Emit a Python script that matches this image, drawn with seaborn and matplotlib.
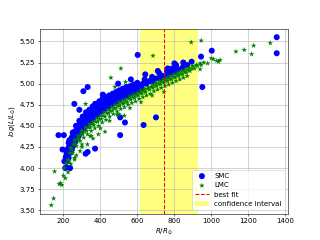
import matplotlib
matplotlib.use("Agg")
import matplotlib.pyplot as plt
import numpy as np
import pandas as pd
import seaborn as sns

# SMC stars: radius (R/Rsun) and log luminosity
smc_r = [205, 212, 218, 224, 230, 236, 242, 248, 254, 260, 266, 272, 278, 284, 290, 296,
         302, 308, 314, 320, 326, 332, 338, 344, 350, 356, 362, 368, 374, 380, 388, 396,
         404, 412, 420, 428, 436, 444, 452, 460, 468, 476, 484, 492, 500, 510, 520, 530,
         540, 552, 564, 576, 588, 600, 615, 630, 648, 666, 684, 702, 720, 740, 760, 780,
         800, 820, 845, 870,
         210, 220, 228, 238, 246, 256, 264, 274, 282, 292, 300, 310, 318, 328, 336, 346,
         354, 364, 372, 382, 392, 402, 414, 426, 438, 450, 462, 474, 488, 502, 516, 532,
         548, 566, 584, 604, 624,
         232, 250, 268, 286, 304, 322, 340, 358, 376, 394, 412, 430, 448, 466, 484, 502,
         520, 540, 560, 580, 600, 640, 680, 720, 760, 790,
         602, 331, 308, 259, 286, 173, 202, 195, 218, 320, 331, 371, 417, 413, 371, 496,
         565, 507, 507, 533, 634, 701, 643, 711, 765, 801, 810, 849, 894, 945, 1003, 952,
         1355, 1355, 216, 236, 228, 245, 262, 240]
smc_logl = [4.08, 4.13, 4.17, 4.23, 4.25, 4.31, 4.32, 4.37, 4.37, 4.43, 4.43, 4.47, 4.47, 4.51, 4.51, 4.55,
            4.54, 4.58, 4.57, 4.61, 4.60, 4.63, 4.62, 4.66, 4.65, 4.68, 4.67, 4.70, 4.69, 4.72, 4.71, 4.75,
            4.74, 4.77, 4.76, 4.79, 4.78, 4.81, 4.80, 4.83, 4.82, 4.85, 4.84, 4.87, 4.86, 4.89, 4.88, 4.91,
            4.90, 4.93, 4.92, 4.95, 4.94, 4.97, 4.97, 5.00, 5.00, 5.03, 5.03, 5.06, 5.06, 5.09, 5.09, 5.13,
            5.14, 5.17, 5.19, 5.22,
            4.00, 4.08, 4.12, 4.18, 4.22, 4.27, 4.32, 4.35, 4.38, 4.42, 4.44, 4.47, 4.50, 4.52, 4.54, 4.57,
            4.58, 4.60, 4.62, 4.63, 4.65, 4.67, 4.69, 4.70, 4.72, 4.74, 4.76, 4.77, 4.79, 4.81, 4.83, 4.85,
            4.86, 4.88, 4.90, 4.92, 4.94,
            4.33, 4.42, 4.50, 4.56, 4.61, 4.66, 4.69, 4.73, 4.76, 4.79, 4.82, 4.84, 4.86, 4.88, 4.90, 4.92,
            4.94, 4.96, 4.97, 4.99, 5.01, 5.05, 5.08, 5.12, 5.15, 5.18,
            5.34, 4.96, 4.91, 4.76, 4.69, 4.39, 4.39, 4.22, 4.18, 4.17, 4.19, 4.23, 4.86, 4.87, 4.76, 5.00,
            5.05, 4.39, 4.60, 4.54, 4.51, 4.60, 5.11, 5.15, 5.18, 5.24, 5.22, 5.25, 5.26, 5.32, 5.39, 4.96,
            5.55, 5.36, 4.01, 4.00, 4.30, 4.36, 4.30, 4.26]

# LMC stars
lmc_r = [205, 215, 225, 235, 245, 255, 265, 275, 285, 295, 305, 315, 325, 335, 345, 355,
         365, 375, 385, 395, 405, 415, 425, 435, 445, 455, 465, 475, 485, 495, 505, 515,
         525, 535, 545, 555, 565, 575, 585, 595, 605, 615, 625, 635, 645, 655, 665, 675,
         685, 695, 705, 715, 725, 735, 745, 755, 765, 775, 785, 795, 805, 815, 825, 835,
         845, 855, 865, 875, 885, 895, 910, 925,
         230, 250, 270, 290, 310, 330, 350, 370, 390, 410, 430, 450, 470, 490, 510, 530,
         550, 570, 590, 610, 630, 650, 670, 690, 710, 730, 750, 770, 790, 810, 830, 850, 870,
         240, 260, 280, 300, 320, 340, 360, 380, 400, 420, 440, 460, 480, 500, 520, 540,
         560, 580, 600, 620, 640, 660, 680, 700, 720, 740, 760, 780, 800, 820, 840, 860,
         880, 900, 920, 940,
         260, 300, 350, 400, 450, 500, 560, 620, 680,
         134, 147, 152, 177, 191, 185, 200, 210, 225, 240, 260, 320, 511, 457, 479, 536,
         685, 892, 946, 744, 981, 1048, 1134, 1179, 1219, 1230, 1320, 940, 1012, 1030, 946,
         425, 389, 491, 330, 290, 530, 360, 960, 1000, 1040, 270, 300, 345]
lmc_logl = [4.00, 4.06, 4.10, 4.18, 4.22, 4.28, 4.29, 4.34, 4.35, 4.40, 4.40, 4.44, 4.44, 4.48, 4.48, 4.52,
            4.51, 4.55, 4.55, 4.58, 4.58, 4.62, 4.61, 4.65, 4.65, 4.68, 4.68, 4.71, 4.71, 4.74, 4.74, 4.77,
            4.76, 4.79, 4.78, 4.82, 4.81, 4.84, 4.83, 4.86, 4.86, 4.89, 4.88, 4.91, 4.90, 4.94, 4.93, 4.96,
            4.95, 4.98, 4.97, 5.00, 4.99, 5.02, 5.01, 5.04, 5.03, 5.06, 5.05, 5.08, 5.07, 5.10, 5.09, 5.12,
            5.11, 5.14, 5.13, 5.16, 5.15, 5.18, 5.18, 5.21,
            4.08, 4.18, 4.26, 4.32, 4.36, 4.40, 4.44, 4.47, 4.50, 4.54, 4.57, 4.61, 4.64, 4.67, 4.70, 4.72,
            4.75, 4.77, 4.79, 4.82, 4.84, 4.86, 4.88, 4.91, 4.93, 4.95, 4.97, 4.99, 5.01, 5.03, 5.05, 5.07, 5.09,
            4.24, 4.33, 4.38, 4.44, 4.48, 4.52, 4.55, 4.59, 4.62, 4.66, 4.69, 4.72, 4.75, 4.78, 4.80, 4.82,
            4.85, 4.87, 4.89, 4.92, 4.94, 4.96, 4.98, 5.01, 5.03, 5.05, 5.07, 5.09, 5.11, 5.13, 5.15, 5.17,
            5.19, 5.21, 5.22, 5.24,
            4.12, 4.28, 4.38, 4.47, 4.56, 4.64, 4.71, 4.78, 4.86,
            3.56, 3.64, 3.96, 3.81, 3.80, 3.82, 3.91, 3.88, 3.95, 4.05, 4.10, 4.76, 5.18, 5.07, 4.96, 5.02,
            5.33, 5.49, 5.51, 4.90, 5.24, 5.28, 5.38, 5.40, 5.35, 5.45, 5.48, 5.17, 5.29, 5.27, 5.22,
            4.43, 4.40, 4.63, 4.28, 4.20, 4.62, 4.35, 5.25, 5.30, 5.26, 4.15, 4.25, 4.38]

best_fit = 742
conf_low, conf_high = 613, 928

smc = pd.DataFrame({"R": smc_r, "logL": smc_logl})
lmc = pd.DataFrame({"R": lmc_r, "logL": lmc_logl})

fig, ax = plt.subplots(figsize=(6.4, 4.8), dpi=50)

ax.axvspan(conf_low, conf_high, color="yellow", alpha=0.5, lw=0, zorder=0,
           label="confidence interval")
sns.scatterplot(data=smc, x="R", y="logL", ax=ax, color="blue", marker="o",
                s=75, edgecolor="none", label="SMC", zorder=2)
sns.scatterplot(data=lmc, x="R", y="logL", ax=ax, color="green", marker="*",
                s=70, edgecolor="none", label="LMC", zorder=3)
ax.axvline(best_fit, color="red", ls="--", lw=1.5, label="best fit", zorder=4)

ax.grid(True, zorder=1)
ax.set_axisbelow(True)
ax.set_xlabel(r"$R/R_{\odot}$")
ax.set_ylabel(r"$log(L/L_{\odot})$")

h, l = ax.get_legend_handles_labels()
order = [l.index(n) for n in ["SMC", "LMC", "best fit", "confidence interval"]]
ax.legend([h[i] for i in order], [l[i] for i in order], loc="lower right")

fig.savefig("out.png", dpi=50)
